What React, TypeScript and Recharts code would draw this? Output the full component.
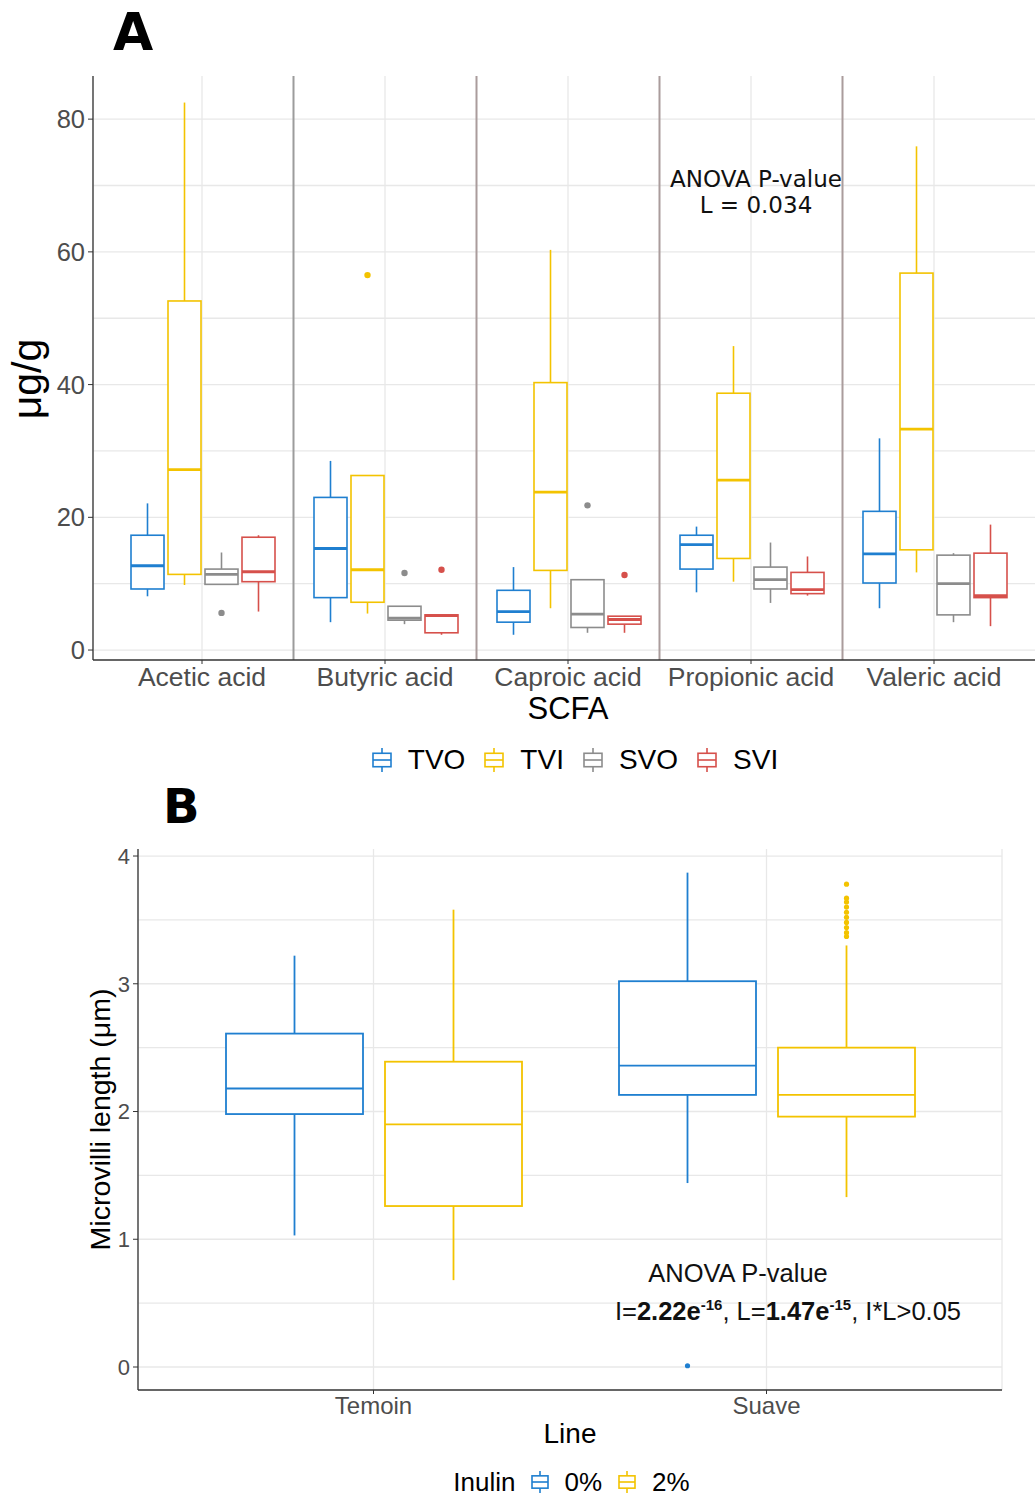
import React from "react"
import { Bar, CartesianGrid, ComposedChart, ReferenceLine, XAxis, YAxis } from "recharts"

type Box = { lo: number; q1: number; med: number; q3: number; hi: number; out: number[] }

// Panel A: SCFA concentrations
const scfaNames = ["Acetic acid", "Butyric acid", "Caproic acid", "Propionic acid", "Valeric acid"]
const scfaGroups = ["TVO", "TVI", "SVO", "SVI"]
const scfaColors = ["#1f7fd0", "#f3c300", "#8c8c8c", "#d6504b"]

// [lower whisker, Q1, median, Q3, upper whisker]
const tvoStats = [
  [8.1, 9.2, 12.7, 17.3, 22.1],
  [4.2, 7.9, 15.3, 23.0, 28.5],
  [2.3, 4.2, 5.8, 9.0, 12.5],
  [8.7, 12.2, 15.9, 17.3, 18.6],
  [6.3, 10.1, 14.5, 20.9, 31.9],
]
const tviStats = [
  [9.8, 11.4, 27.2, 52.6, 82.5],
  [5.5, 7.2, 12.1, 26.3, 26.3],
  [6.3, 12.0, 23.8, 40.3, 60.3],
  [10.3, 13.8, 25.6, 38.7, 45.8],
  [11.7, 15.1, 33.3, 56.8, 75.9],
]
const svoStats = [
  [9.9, 9.9, 11.4, 12.2, 14.7],
  [3.9, 4.5, 4.8, 6.6, 6.6],
  [2.6, 3.4, 5.4, 10.6, 10.6],
  [7.1, 9.2, 10.6, 12.5, 16.2],
  [4.2, 5.3, 10.0, 14.3, 14.6],
]
const sviStats = [
  [5.8, 10.3, 11.8, 17.0, 17.3],
  [2.3, 2.6, 5.2, 5.3, 5.3],
  [2.6, 3.9, 4.6, 5.1, 5.1],
  [8.2, 8.5, 9.1, 11.7, 14.1],
  [3.6, 7.9, 8.2, 14.6, 18.9],
]
const tvoOut: number[][] = [[], [], [], [], []]
const tviOut: number[][] = [[], [56.5], [], [], []]
const svoOut: number[][] = [[5.6], [11.6], [21.8], [], []]
const sviOut: number[][] = [[], [12.1], [11.3], [], []]
const scfaTicks = [0, 20, 40, 60, 80]
const scfaGrid = [0, 10, 20, 30, 40, 50, 60, 70, 80]

// Panel B: microvilli length
const lineNames = ["Temoin", "Suave"]
const inulinGroups = ["0%", "2%"]
const inulinColors = ["#1f7fd0", "#f3c300"]
const inulin0Stats = [
  [1.03, 1.98, 2.18, 2.61, 3.22],
  [1.44, 2.13, 2.36, 3.02, 3.87],
]
const inulin2Stats = [
  [0.68, 1.26, 1.9, 2.39, 3.58],
  [1.33, 1.96, 2.13, 2.5, 3.3],
]
const inulin0Out: number[][] = [[], [0.01]]
const inulin2Out: number[][] = [[], [3.78, 3.67, 3.64, 3.6, 3.56, 3.52, 3.48, 3.44, 3.4, 3.37]]
const microTicks = [0, 1, 2, 3, 4]
const microGrid = [0, 0.5, 1, 1.5, 2, 2.5, 3, 3.5, 4]

const toBox = (s: number[], out: number[]): Box => ({ lo: s[0], q1: s[1], med: s[2], q3: s[3], hi: s[4], out })

const scfaStats = [tvoStats, tviStats, svoStats, sviStats]
const scfaOut = [tvoOut, tviOut, svoOut, sviOut]
const scfaData = scfaNames.map((name, i) => {
  const row: any = { name }
  scfaGroups.forEach((g, j) => (row[g] = toBox(scfaStats[j][i], scfaOut[j][i])))
  return row
})

const microStats = [inulin0Stats, inulin2Stats]
const microOut = [inulin0Out, inulin2Out]
const microData = lineNames.map((name, i) => {
  const row: any = { name }
  inulinGroups.forEach((g, j) => (row[g] = toBox(microStats[j][i], microOut[j][i])))
  return row
})

const FONT = "'Liberation Sans', Arial, sans-serif"
const GRID = "#e8e8e8"
const BORDER = "#333333"

function BoxShape(props: any) {
  const { x, y, width, height, payload, group, color, lw, medW, dotR } = props
  const s: Box = payload[group]
  const top = Math.min(y, y + height)
  const bottom = Math.max(y, y + height)
  const k = (bottom - top) / (s.hi - s.lo)
  const py = (v: number) => bottom - (v - s.lo) * k
  const cx = x + width / 2
  return (
    <g>
      <line x1={cx} x2={cx} y1={py(s.hi)} y2={py(s.q3)} stroke={color} strokeWidth={lw} />
      <line x1={cx} x2={cx} y1={py(s.q1)} y2={py(s.lo)} stroke={color} strokeWidth={lw} />
      <rect x={x} y={py(s.q3)} width={width} height={py(s.q1) - py(s.q3)} fill="#ffffff" stroke={color} strokeWidth={lw} />
      <line x1={x} x2={x + width} y1={py(s.med)} y2={py(s.med)} stroke={color} strokeWidth={medW} />
      {s.out.map((v, i) => (
        <circle key={i} cx={cx} cy={py(v)} r={dotR} fill={color} />
      ))}
    </g>
  )
}

const rotatedTitle = (text: string, baseX: number, shiftY: number, size: number) => (props: any) => {
  const vb = props.viewBox || { y: 0, height: 0 }
  const y = vb.y + vb.height / 2 + shiftY
  return (
    <text x={baseX} y={y} transform={`rotate(-90 ${baseX} ${y})`} textAnchor="middle" fontSize={size} fill="#000" fontFamily={FONT}>
      {text}
    </text>
  )
}

function LegendIcon({ color, w = 20, h = 24 }: { color: string; w?: number; h?: number }) {
  return (
    <svg width={w} height={h} style={{ display: "block" }}>
      <line x1={w / 2} x2={w / 2} y1={0} y2={h} stroke={color} strokeWidth={1.6} />
      <rect x={1} y={h * 0.22} width={w - 2} height={h * 0.56} fill="#fff" stroke={color} strokeWidth={1.6} />
      <line x1={1} x2={w - 1} y1={h / 2} y2={h / 2} stroke={color} strokeWidth={1.6} />
    </svg>
  )
}

function ScfaChart() {
  return (
    <ComposedChart
      width={1043}
      height={730}
      data={scfaData}
      margin={{ top: 76, right: 0, bottom: 0, left: 0 }}
      barCategoryGap={20.5}
      barGap={4}
    >
      <CartesianGrid stroke={GRID} strokeWidth={1.3} horizontalValues={scfaGrid} />
      <XAxis
        dataKey="name"
        height={70}
        padding={{ left: 17.5, right: 17.5 }}
        tickSize={4}
        tickMargin={3}
        tickLine={{ stroke: BORDER }}
        axisLine={{ stroke: BORDER, strokeWidth: 1.3 }}
        tick={{ fontSize: 26.5, fill: "#4d4d4d", fontFamily: FONT }}
        interval={0}
        label={{ value: "SCFA", position: "insideBottom", offset: 11, style: { fontSize: 31, fill: "#000", fontFamily: FONT } }}
      />
      <XAxis xAxisId="top" orientation="top" height={0} tick={false} tickLine={false} axisLine={{ stroke: BORDER, strokeWidth: 1.3 }} />
      <YAxis
        type="number"
        width={93}
        domain={[-1.5, 86.5]}
        allowDataOverflow
        ticks={scfaTicks}
        tickSize={5}
        tickMargin={3}
        tickLine={{ stroke: BORDER }}
        axisLine={{ stroke: BORDER, strokeWidth: 1.3 }}
        tick={{ fontSize: 25.5, fill: "#4d4d4d", fontFamily: FONT }}
        label={rotatedTitle("μg/g", 41, 11, 41)}
      />
      {scfaNames.slice(0, -1).map((name, i) => (
        <ReferenceLine key={name} x={name} position="end" stroke={i === 0 ? "#9c9c9c" : "#aa9c9c"} strokeWidth={2} />
      ))}
      {scfaGroups.map((g, j) => (
        <Bar
          key={g}
          dataKey={(r: any) => [r[g].lo, r[g].hi]}
          isAnimationActive={false}
          shape={(p: any) => <BoxShape {...p} group={g} color={scfaColors[j]} lw={1.6} medW={2.8} dotR={3.2} />}
        />
      ))}
    </ComposedChart>
  )
}

function MicroChart() {
  return (
    <ComposedChart
      width={1035}
      height={670}
      data={microData}
      margin={{ top: 69, right: 33, bottom: 0, left: 0 }}
      barCategoryGap={49}
      barGap={22}
    >
      <CartesianGrid stroke={GRID} strokeWidth={1.3} horizontalValues={microGrid} />
      <XAxis
        dataKey="name"
        height={60}
        padding={{ left: 39, right: 39 }}
        tickSize={4}
        tickMargin={3}
        tickLine={{ stroke: BORDER }}
        axisLine={{ stroke: BORDER, strokeWidth: 1.3 }}
        tick={{ fontSize: 24, fill: "#4d4d4d", fontFamily: FONT }}
        label={{ value: "Line", position: "insideBottom", offset: 7, style: { fontSize: 28, fill: "#000", fontFamily: FONT } }}
      />
      <XAxis xAxisId="top" orientation="top" height={0} tick={false} tickLine={false} axisLine={{ stroke: BORDER, strokeWidth: 1.3 }} />
      <YAxis
        type="number"
        width={138}
        domain={[-0.18, 4.055]}
        allowDataOverflow
        ticks={microTicks}
        tickSize={5}
        tickMargin={3}
        tickLine={{ stroke: BORDER }}
        axisLine={{ stroke: BORDER, strokeWidth: 1.3 }}
        tick={{ fontSize: 22, fill: "#4d4d4d", fontFamily: FONT }}
        label={rotatedTitle("Microvilli length (μm)", 110, 0, 28.5)}
      />
      <YAxis
        yAxisId="right"
        orientation="right"
        width={0}
        domain={[0, 1]}
        tick={false}
        tickLine={false}
        axisLine={{ stroke: BORDER, strokeWidth: 1.3 }}
      />
      {inulinGroups.map((g, j) => (
        <Bar
          key={g}
          dataKey={(r: any) => [r[g].lo, r[g].hi]}
          isAnimationActive={false}
          shape={(p: any) => <BoxShape {...p} group={g} color={inulinColors[j]} lw={1.8} medW={1.8} dotR={2.6} />}
        />
      ))}
    </ComposedChart>
  )
}

export default function App() {
  return (
    <div
      style={{
        position: "absolute",
        left: 0,
        top: 0,
        width: 1035,
        height: 1497,
        overflow: "hidden",
        background: "#fff",
        fontFamily: FONT,
      }}
    >
      <div style={{ position: "absolute", left: 0, top: 0 }}>
        <ScfaChart />
      </div>
      <div style={{ position: "absolute", left: 0, top: 780 }}>
        <MicroChart />
      </div>

      <div
        style={{
          position: "absolute",
          left: 115,
          top: 745,
          width: 920,
          height: 30,
          display: "flex",
          justifyContent: "center",
          alignItems: "center",
          fontSize: 28,
          color: "#000",
        }}
      >
        {scfaGroups.map((g, j) => (
          <div key={g} style={{ display: "flex", alignItems: "center", marginRight: j < scfaGroups.length - 1 ? 19 : 0 }}>
            <LegendIcon color={scfaColors[j]} />
            <span style={{ marginLeft: 16, lineHeight: "30px" }}>{g}</span>
          </div>
        ))}
      </div>

      <div
        style={{
          position: "absolute",
          left: 0,
          top: 1467,
          width: 1143,
          height: 30,
          display: "flex",
          justifyContent: "center",
          alignItems: "center",
          fontSize: 26,
          color: "#000",
        }}
      >
        <span style={{ marginRight: 15, lineHeight: "30px" }}>Inulin</span>
        {inulinGroups.map((g, j) => (
          <div key={g} style={{ display: "flex", alignItems: "center", marginRight: j < inulinGroups.length - 1 ? 16 : 0 }}>
            <LegendIcon color={inulinColors[j]} w={18} h={22} />
            <span style={{ marginLeft: 16, lineHeight: "30px" }}>{g}</span>
          </div>
        ))}
      </div>

      <svg width={1035} height={1497} style={{ position: "absolute", left: 0, top: 0, pointerEvents: "none" }}>
        <text x={113} y={50} fontSize={52} fontWeight={900} fontFamily="'DejaVu Sans', sans-serif" fill="#000">
          A
        </text>
        <text x={163} y={823} fontSize={48} fontWeight={900} fontFamily="'DejaVu Sans', sans-serif" fill="#000">
          B
        </text>
        <g fontFamily="'DejaVu Sans', Verdana, sans-serif" fontSize={23} fill="#111" textAnchor="middle">
          <text x={756} y={187}>ANOVA P-value</text>
          <text x={756} y={213}>L = 0.034</text>
        </g>
        <g fontFamily={FONT} fontSize={25.5} fill="#111" textAnchor="middle">
          <text x={738} y={1282}>ANOVA P-value</text>
          <text x={788} y={1320}>
            <tspan>I=</tspan>
            <tspan fontWeight="bold">2.22e</tspan>
            <tspan fontSize={15} fontWeight="bold" dy={-10}>-16</tspan>
            <tspan dy={10}>, L=</tspan>
            <tspan fontWeight="bold">1.47e</tspan>
            <tspan fontSize={15} fontWeight="bold" dy={-10}>-15</tspan>
            <tspan dy={10}>, I*L&gt;0.05</tspan>
          </text>
        </g>
      </svg>
    </div>
  )
}
